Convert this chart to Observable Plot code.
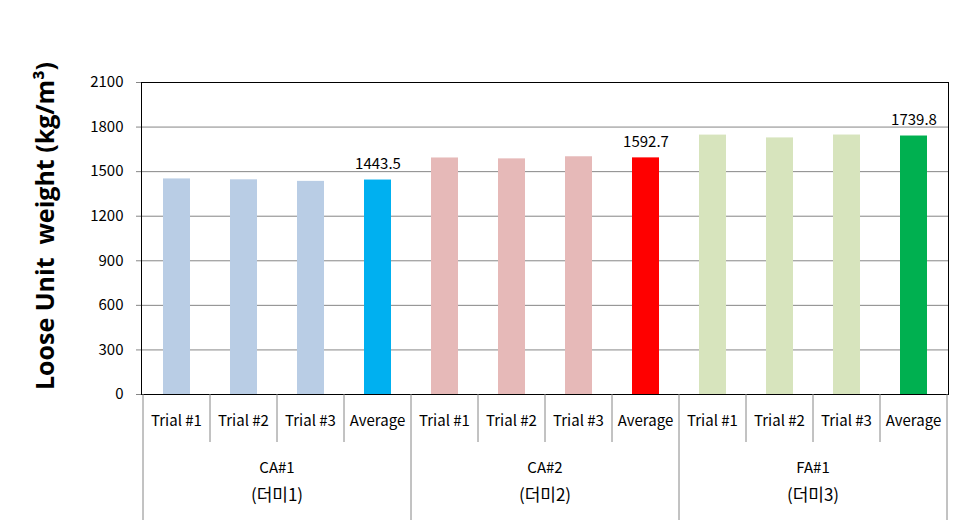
<!DOCTYPE html>
<html><head><meta charset="utf-8">
<script src="https://cdn.jsdelivr.net/npm/d3@7"></script>
<script src="https://cdn.jsdelivr.net/npm/@observablehq/plot@0.6"></script>
<style>
body{margin:0;background:#fff;font-family:"Noto Sans CJK KR","Open Sans",sans-serif}
</style>
</head><body><div id="chart"></div>
<script>
const groups = ["CA#1", "CA#2", "FA#1"];
const groupNotes = ["(더미1)", "(더미2)", "(더미3)"];
const trials = ["Trial #1", "Trial #2", "Trial #3", "Average"];
const caOneValues = [1451, 1445, 1434.5, 1443.5];
const caTwoValues = [1592, 1586, 1600.1, 1592.7];
const faOneValues = [1746, 1727, 1746.4, 1739.8];
const trialColors = ["#b9cde5", "#e6b9b8", "#d7e4bd"];
const averageColors = ["#00b0f0", "#ff0000", "#00b050"];
const yTicks = [0, 300, 600, 900, 1200, 1500, 1800, 2100];
const yTitle = "Loose Unit\u00a0 weight (kg/m\u00b3)";

const seriesValues = [caOneValues, caTwoValues, faOneValues];
const rows = [];
groups.forEach((g, gi) => {
  trials.forEach((t, ti) => {
    rows.push({
      key: g + "|" + t, group: g, trial: t,
      value: seriesValues[gi][ti],
      isAvg: t === "Average",
      color: t === "Average" ? averageColors[gi] : trialColors[gi]
    });
  });
});
const keys = rows.map(d => d.key);
const FONT = '"Noto Sans CJK KR","Open Sans",sans-serif';

const chart = Plot.plot({
  width: 977, height: 525,
  marginLeft: 141, marginRight: 29, marginTop: 82, marginBottom: 131,
  style: {fontFamily: FONT, fontSize: "15px", color: "#000", background: "#fff", overflow: "visible"},
  x: {domain: keys, paddingInner: 0.6, paddingOuter: 0.3, axis: null},
  y: {domain: [0, 2100], ticks: yTicks, tickFormat: d => String(d), tickSize: 5, tickPadding: 13, label: null, grid: false},
  marks: [
    Plot.ruleY(yTicks.filter(v => v > 0 && v < 2100), {stroke: "#868686", strokeOpacity: 1}),
    Plot.barY(rows, {x: "key", y: "value", fill: "color"}),
    Plot.text(rows.filter(d => d.isAvg), {x: "key", y: "value", text: d => d.value.toFixed(1), dy: -16, fontSize: 15, fill: "#000"}),
    Plot.ruleY([0], {stroke: "#868686"}),
    Plot.frame({stroke: "#000", strokeOpacity: 1})
  ]
});
document.getElementById("chart").appendChild(chart);

// category table below the plot, positioned through Plot's x scale
const xs = chart.scale("x");
const svg = d3.select(chart.tagName === "svg" ? chart : chart.querySelector("svg"));
const bw = xs.bandwidth, step = xs.step;
const yBase = 525 - 131;
const g = svg.append("g").attr("stroke", "#868686").attr("stroke-width", 1);
const tg = svg.append("g").style("font-size", "15px").style("font-family", FONT).attr("text-anchor", "middle").attr("fill", "#000");
rows.forEach((d, i) => {
  const cx = xs.apply(d.key) + bw / 2;
  const left = cx - step / 2;
  const isGroupStart = i % 4 === 0;
  g.append("line").attr("x1", left).attr("x2", left).attr("y1", yBase).attr("y2", isGroupStart ? 520 : 442);
  tg.append("text").attr("x", cx).attr("y", 421).attr("dy", "0.35em").text(d.trial);
});
const lastKey = keys[keys.length - 1];
const rightEdge = xs.apply(lastKey) + bw / 2 + step / 2;
g.append("line").attr("x1", rightEdge).attr("x2", rightEdge).attr("y1", yBase).attr("y2", 520);
groups.forEach((grp, gi) => {
  const a = xs.apply(grp + "|" + trials[0]) + bw / 2;
  const b = xs.apply(grp + "|" + trials[3]) + bw / 2;
  const cx = (a + b) / 2;
  tg.append("text").attr("x", cx).attr("y", 468).attr("dy", "0.35em").text(grp);
  tg.append("text").attr("x", cx).attr("y", 495).attr("dy", "0.35em").style("font-size", "17px").text(groupNotes[gi]);
});
// y-axis title
svg.append("text")
  .attr("transform", "translate(45,226) rotate(-90)")
  .attr("text-anchor", "middle").attr("dy", "0.35em")
  .attr("fill", "#000")
  .style("font-size", "25px").style("font-weight", "bold")
  .style("font-family", '"Open Sans","Noto Sans",sans-serif')
  .style("white-space", "pre")
  .text(yTitle);
svg.selectAll('g[aria-label="y-axis tick"] path, g[aria-label="y-axis"] path').attr("stroke", "#868686");
</script>
</body></html>
